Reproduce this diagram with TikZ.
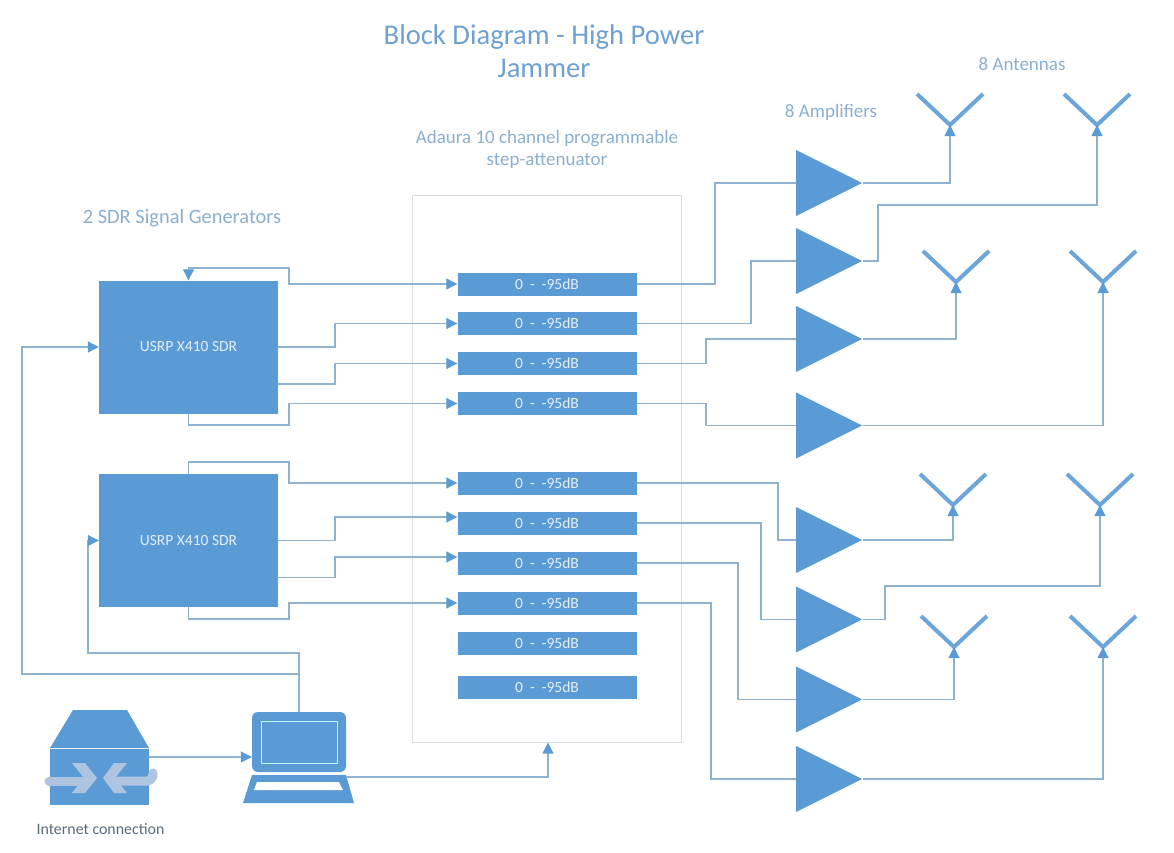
\documentclass[tikz,border=0pt]{standalone}
\usepackage{fontspec}
\setmainfont{Carlito}
\usetikzlibrary{arrows.meta, shapes.geometric}
\definecolor{boxblue}{HTML}{5B9BD5}
\definecolor{wireblue}{HTML}{8FB2D0}
\definecolor{titleblue}{HTML}{6FA0D2}
\definecolor{labelblue}{HTML}{8AAFD0}
\definecolor{framegrey}{HTML}{D9DEE3}
\definecolor{ringblue}{HTML}{AFC4E0}
\definecolor{boxtext}{HTML}{E3EEF8}
\definecolor{darktext}{HTML}{5A6B7C}
\tikzset{
  >=latex,
  % Blocks
  sdr box/.style={draw=none,fill=boxblue,minimum width=179,minimum height=133,inner sep=0,text=boxtext,font=\fontsize{15.5}{18}\selectfont},
  att box/.style={draw=none,fill=boxblue,minimum width=179,minimum height=23,inner sep=0,text=boxtext,font=\fontsize{15.5}{18}\selectfont},
  amp/.style={isosceles triangle,isosceles triangle stretches,shape border rotate=0,fill=boxblue,minimum width=66,minimum height=66,inner sep=0,anchor=west},
  antenna/.style={line width=4,boxblue!90!white},
  % Connections
  connect/.style={line width=1.1,wireblue},
  connect arrow/.style={connect,-{Triangle[length=11,width=11,fill=boxblue,color=boxblue]}},
  connect both/.style={connect,{Triangle[length=11,width=11,fill=boxblue,color=boxblue]}-{Triangle[length=11,width=11,fill=boxblue,color=boxblue]}},
  % Labels
  heading/.style={text=labelblue,align=center,font=\fontsize{19}{22}\selectfont}
}
\begin{document}
\begin{tikzpicture}[x=1pt,y=-1pt]
  \useasboundingbox (0,0) rectangle (1174,852);
  % Titles
  \node[text=titleblue,align=center,font=\fontsize{28.6}{33}\selectfont] (title) at (544,51) {Block Diagram - High Power\\Jammer};
  \node[heading] (adaura label) at (547,149.5) {Adaura 10 channel programmable\\step-attenuator};
  \node[heading,font=\fontsize{20.4}{22}\selectfont] (sdr label) at (182,218) {2 SDR Signal Generators};
  \node[heading] (amp label) at (831,112.5) {8 Amplifiers};
  \node[heading] (ant label) at (1022,64.5) {8 Antennas};
  % Attenuator frame and channels
  \node[draw=framegrey,line width=1,minimum width=269,minimum height=547,inner sep=0] (adaura) at (546.5,468.5) {};
  \foreach \n/\y in {1/284,2/323.5,3/363.5,4/403.5,5/483,6/523,7/563,8/603,9/643,10/687}
    \node[att box] (att\n) at (547,\y) {0 \ - \ -95dB};
  % Signal generators
  \node[sdr box] (sdrA) at (188.5,347) {USRP X410 SDR};
  \node[sdr box] (sdrB) at (188.5,540.5) {USRP X410 SDR};
  % Amplifiers
  \foreach \n/\y in {1/183,2/261,3/339,4/425.5,5/540,6/619.5,7/699.5,8/779}
    \node[amp] (amp\n) at (796,\y) {};
  % Antennas
  \foreach \n/\x/\y in {1/950/125,2/1097/125,3/956/282,4/1103/282,5/953/505,6/1100/505,7/954/647,8/1103/647}{
    \coordinate (ant\n) at (\x,\y);
    \draw[antenna] (ant\n) ++(-33,-31) -- (ant\n) -- ++(33,-31);
  }
  % Router
  \node[fill=boxblue,minimum width=99,minimum height=56,inner sep=0] (router) at (99.5,777) {};
  \fill[boxblue] (73,710) -- (127,710) -- (149,748) -- (50,748) -- cycle;
  \draw[line width=9,ringblue,line cap=round] (49,781) -- (85,781);
  \draw[line width=9,ringblue,line cap=round] (115,781) -- (148,781) to[bend right=40] (153,773);
  \fill[ringblue] (72,763) -- (85,763) -- (97,778) -- (85,793) -- (72,793) -- (84,778) -- cycle;
  \fill[ringblue] (127,763) -- (114,763) -- (103,778) -- (114,793) -- (127,793) -- (115,778) -- cycle;
  % Laptop
  \node[fill=boxblue,rounded corners=6,minimum width=94,minimum height=60,inner sep=0] (laptop) at (299,742) {};
  \draw[line width=1,blue!10!cyan!25!white] (261,721) rectangle (337,763);
  \fill[boxblue] (252,775) -- (346,775) -- (354,803) -- (243,803) -- cycle;
  \fill[white] (257,782) -- (339,782) -- (343,790) -- (254,790) -- cycle;
  \coordinate (laptop out) at (346,777);
  % Generators to attenuator
  \draw[connect both] (sdrA.north) -- (188.5,268) -- (289,268) -- (289,284) -- (att1.west);
  \draw[connect arrow] (sdrA.east) -- (335,347) -- (335,323.5) -- (att2.west);
  \draw[connect arrow] ([yshift=-37]sdrA.east) -- (335,384) -- (335,363.5) -- (att3.west);
  \draw[connect arrow] (sdrA.south) -- (188.5,425) -- (289,425) -- (289,403.5) -- (att4.west);
  \draw[connect arrow] (sdrB.north) -- (188.5,462) -- (289,462) -- (289,483) -- (att5.west);
  \draw[connect arrow] (sdrB.east) -- (335,540.5) -- (335,517) -- ([yshift=6]att6.west);
  \draw[connect arrow] ([yshift=-37]sdrB.east) -- (335,577.5) -- (335,557) -- ([yshift=6]att7.west);
  \draw[connect arrow] (sdrB.south) -- (188.5,619) -- (289,619) -- (289,603) -- (att8.west);
  % Attenuator to amplifiers
  \draw[connect] (att1.east) -- (715,284) -- (715,183) -- (amp1.west);
  \draw[connect] (att2.east) -- (751,323.5) -- (751,261) -- (amp2.west);
  \draw[connect] (att3.east) -- (706,363.5) -- (706,339) -- (amp3.west);
  \draw[connect] (att4.east) -- (706,403.5) -- (706,425.5) -- (amp4.west);
  \draw[connect] (att5.east) -- (778,483) -- (778,540) -- (amp5.west);
  \draw[connect] (att6.east) -- (761,523) -- (761,619.5) -- (amp6.west);
  \draw[connect] (att7.east) -- (738,563) -- (738,699.5) -- (amp7.west);
  \draw[connect] (att8.east) -- (711,603) -- (711,779) -- (amp8.west);
  % Amplifiers to antennas
  \draw[connect arrow] (amp1.east) -- (950,183) -- (ant1);
  \draw[connect arrow] (amp2.east) -- (878,261) -- (878,205) -- (1097,205) -- (ant2);
  \draw[connect arrow] (amp3.east) -- (956,339) -- (ant3);
  \draw[connect arrow] (amp4.east) -- (1103,425.5) -- (ant4);
  \draw[connect arrow] (amp5.east) -- (953,540) -- (ant5);
  \draw[connect arrow] (amp6.east) -- (885,619.5) -- (885,586) -- (1100,586) -- (ant6);
  \draw[connect arrow] (amp7.east) -- (954,699.5) -- (ant7);
  \draw[connect arrow] (amp8.east) -- (1103,779) -- (ant8);
  % Control lines
  \draw[connect arrow] ([yshift=20]router.east) -- ([yshift=-15]laptop.west);
  \draw[connect arrow] (laptop.north) -- (299,653) -- (88,653) -- (88,540.5) -- (sdrB.west);
  \draw[connect arrow] (299,674) -- (22,674) -- (22,347) -- (sdrA.west);
  \draw[connect arrow] (laptop out) -- (548,777) -- ([xshift=1.5]adaura.south);
  \node[text=darktext,font=\fontsize{15.9}{17}\selectfont] (router label) at (100.5,829) {Internet connection};
\end{tikzpicture}
\end{document}
